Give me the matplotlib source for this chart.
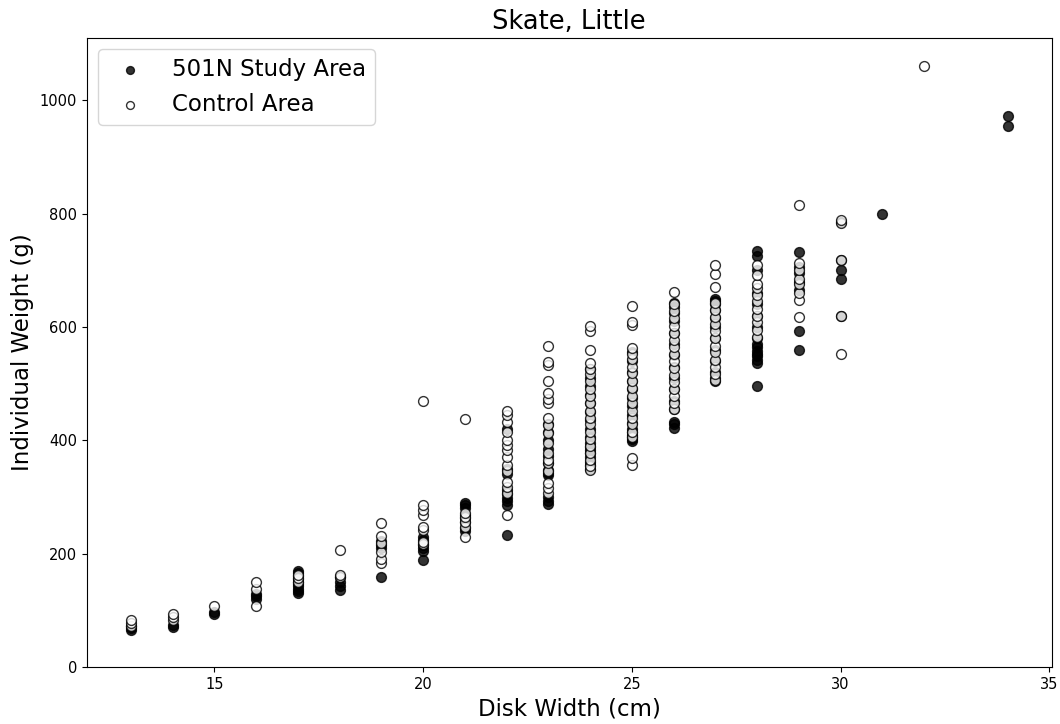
import matplotlib
matplotlib.use("Agg")
import matplotlib.pyplot as plt

# disk width (cm) -> individual weights (g)
study_weights = {
    13: [65, 68, 72],
    14: [70, 73],
    15: [94, 96],
    16: [120, 125, 128],
    17: [130, 134, 138, 142, 146, 150, 155, 160, 165, 170],
    18: [136, 142, 150, 158],
    19: [159, 210, 215, 222],
    20: [188, 205, 210, 215, 224, 230],
    21: [240, 245, 255, 262, 268, 280, 285, 290],
    22: [233, 285, 292, 298, 305, 313, 340, 350, 420],
    23: [287, 292, 300, 338, 342, 347, 360, 372, 385, 400, 415, 428],
    24: [350, 356, 362, 370, 378, 383, 388, 395, 405, 420, 435, 450, 465, 480, 495, 510, 525],
    25: [398, 402, 406, 410, 415, 420, 430, 445, 460, 475, 490, 505, 520, 540, 555],
    26: [422, 428, 432, 455, 470, 490, 510, 530, 550, 570, 590, 610, 625, 635, 642],
    27: [505, 510, 520, 540, 560, 580, 600, 615, 630, 640, 645, 650],
    28: [495, 537, 542, 548, 553, 558, 565, 570, 580, 600, 620, 640, 660, 700, 725, 735],
    29: [560, 593, 665, 680, 695, 705, 732],
    30: [620, 685, 700, 718, 785],
    31: [800],
    34: [955, 973],
}

control_weights = {
    13: [72, 78, 83],
    14: [82, 88, 93],
    15: [107],
    16: [108, 137, 150],
    17: [150, 157, 162],
    18: [159, 162, 207],
    19: [184, 190, 203, 219, 231, 254],
    20: [216, 220, 242, 247, 268, 277, 286, 469],
    21: [230, 247, 256, 265, 272, 438],
    22: [268, 307, 318, 327, 345, 357, 371, 383, 392, 401, 415, 433, 445, 451],
    23: [307, 316, 325, 345, 360, 366, 378, 396, 413, 427, 440, 466, 472, 484, 504, 532, 539, 566],
    24: [348, 355, 365, 378, 390, 402, 415, 428, 440, 452, 465, 478, 490, 505, 517, 525, 537,
         560, 592, 601],
    25: [357, 369, 405, 415, 428, 440, 452, 465, 478, 492, 505, 518, 530, 543, 553, 563, 604,
         608, 637],
    26: [455, 465, 478, 490, 502, 515, 527, 540, 552, 565, 577, 590, 602, 615, 628, 640, 662],
    27: [507, 517, 530, 542, 555, 567, 580, 592, 605, 618, 630, 643, 671, 693, 709],
    28: [583, 595, 608, 620, 632, 645, 657, 668, 675, 692, 710],
    29: [618, 648, 660, 675, 685, 700, 713, 816],
    30: [553, 620, 718, 784, 788],
    32: [1061],
}


def flatten(d):
    xs, ys = [], []
    for w, vals in d.items():
        xs += [w] * len(vals)
        ys += vals
    return xs, ys


sx, sy = flatten(study_weights)
cx, cy = flatten(control_weights)

fig = plt.figure(figsize=(10.6, 7.24), dpi=100)
ax = fig.add_axes([0.082, 0.079, 0.910, 0.869])

ax.scatter(sx, sy, s=50, c="black", alpha=0.8, label="501N Study Area")
ax.scatter(cx, cy, s=50, facecolors="white", edgecolors="black", alpha=0.8,
           label="Control Area")

ax.set_ylim(bottom=0)
ax.set_title("Skate, Little", fontsize=18.5)
ax.set_xlabel("Disk Width (cm)", fontsize=16.5)
ax.set_ylabel("Individual Weight (g)", fontsize=16.5)
ax.tick_params(labelsize=10.5)
ax.legend(loc="upper left", fontsize=16.5, markerscale=0.8)

fig.savefig("out.png", dpi=100)
plt.close(fig)
